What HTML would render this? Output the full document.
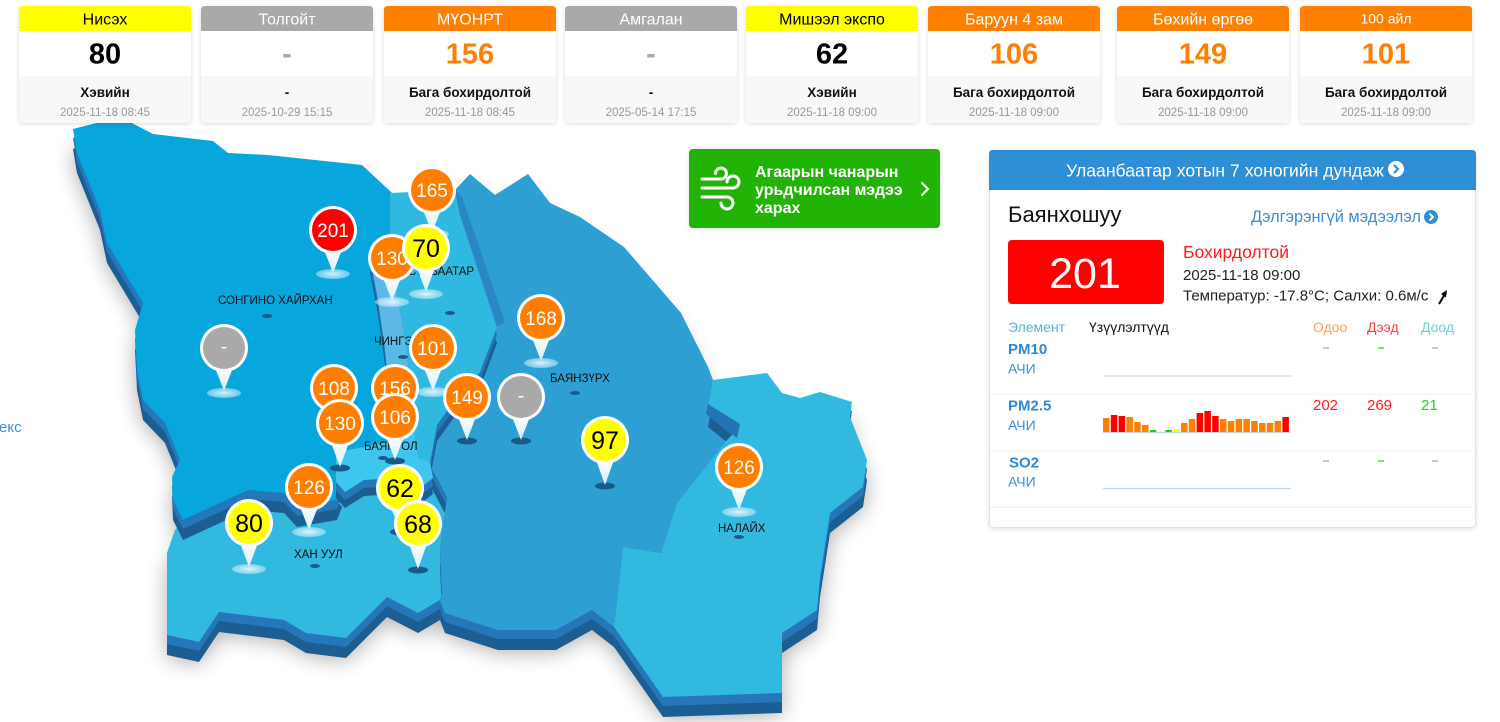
<!DOCTYPE html>
<html><head><meta charset="utf-8">
<style>
*{margin:0;padding:0;box-sizing:border-box}
html,body{width:1500px;height:722px;overflow:hidden;background:#fff}
svg{display:block}
</style></head>
<body>
<svg width="1500" height="722" viewBox="0 0 1500 722" xmlns="http://www.w3.org/2000/svg" xmlns:xlink="http://www.w3.org/1999/xlink" font-family="'Liberation Sans', 'Noto Sans CJK SC', sans-serif">
<defs>
<polygon id="skh" points="73,129 120,117 128,121 153,134 213,141 228,153 268,155 362,165 392,193 390,255 370,258 378,300 385,350 392,420 400,440 364,447 336,452 336,480 342,487 337,500 297,507 284,493 248,490 183,520 173,500 172,477 180,460 165,423 143,400 137,370 135,330 143,303 107,243 100,210 77,153"/>
<polygon id="chg" points="370,258 390,255 398,300 405,340 410,380 413,420 400,440 392,420 385,350 378,300"/>
<polygon id="sukh" points="390,193 455,190 460,215 497,327 480,372 455,400 437,425 430,462 418,458 413,420 410,380 405,340 398,300 390,255"/>
<polygon id="bg" points="336,452 364,447 400,440 413,420 418,458 430,462 433,478 420,488 395,478 364,480 345,492 336,482"/>
<polygon id="ku" points="183,520 248,490 284,493 297,507 337,500 345,492 364,480 395,478 420,488 433,478 431,467 447,497 440,547 442,593 440,600 418,613 387,597 346,638 306,633 284,620 219,612 199,642 167,635 167,553 175,530"/>
<polygon id="bz" points="455,190 470,174 495,195 528,174 550,203 580,217 624,247 681,313 708,367 713,380 708,407 737,430 727,440 677,503 661,553 623,547 614,627 592,610 556,630 498,630 445,613 440,600 442,593 440,547 447,497 431,467 430,462 437,425 455,400 480,372 497,327 460,215"/>
<polygon id="nl" points="713,380 767,373 782,393 800,398 820,392 852,402 850,417 867,460 863,487 830,513 820,577 817,610 782,633 782,693 663,697 614,627 623,547 661,553 677,503 727,440 737,430 708,407"/>
<filter id="mapsh" x="-20%" y="-20%" width="140%" height="140%"><feGaussianBlur stdDeviation="11"/></filter>
<filter id="csh" x="-10%" y="-10%" width="120%" height="130%"><feGaussianBlur stdDeviation="2.5"/></filter>
<radialGradient id="le"><stop offset="0" stop-color="#ffffff" stop-opacity=".85"/><stop offset="1" stop-color="#cdeefa" stop-opacity=".5"/></radialGradient>
<linearGradient id="tg" x1="0" y1="0" x2="0" y2="1"><stop offset="0" stop-color="#ffffff"/><stop offset="1" stop-color="#d5f0fb"/></linearGradient>
</defs>

<!-- Map shadow -->
<g filter="url(#mapsh)" opacity=".32" transform="translate(0,22)" fill="#000">
<use xlink:href="#skh"/><use xlink:href="#sukh"/><use xlink:href="#ku"/><use xlink:href="#bz"/><use xlink:href="#nl"/><use xlink:href="#bg"/><use xlink:href="#chg"/>
</g>

<!-- Khan-Uul -->
<use xlink:href="#ku" y="20" fill="#1c5d92"/><use xlink:href="#ku" y="9" fill="#2577b9"/><use xlink:href="#ku" fill="#31b9df"/>
<!-- Bayanzurkh -->
<use xlink:href="#bz" y="20" fill="#1c5d92"/><use xlink:href="#bz" y="9" fill="#2577b9"/><use xlink:href="#bz" fill="#2e9fd3"/>
<!-- Nalaikh -->
<use xlink:href="#nl" y="20" fill="#1c5d92"/><use xlink:href="#nl" y="9" fill="#2577b9"/><use xlink:href="#nl" fill="#31b9df"/>
<polygon points="708,404 740,424 737,438 706,414" fill="#2474b4"/>
<!-- Songino Khairkhan -->
<use xlink:href="#skh" y="20" fill="#1c5d92"/><use xlink:href="#skh" y="9" fill="#2577b9"/><use xlink:href="#skh" fill="#07a6dc"/>
<!-- Sukhbaatar -->
<use xlink:href="#sukh" y="16" fill="#1c5d92"/><use xlink:href="#sukh" y="8" fill="#2577b9"/><use xlink:href="#sukh" fill="#30b9e0"/>
<polygon points="455,190 462,197 505,322 497,327 460,215" fill="#2a86c5"/>
<!-- Chingeltei -->
<use xlink:href="#chg" y="14" fill="#1c5d92"/><use xlink:href="#chg" y="7" fill="#2577b9"/><use xlink:href="#chg" fill="#5bb8e7"/>
<!-- Bayangol -->
<use xlink:href="#bg" y="16" fill="#1c5d92"/><use xlink:href="#bg" y="8" fill="#2577b9"/><use xlink:href="#bg" fill="#3fc6ee"/>

<!-- label dots -->
<g fill="#1b5a8a">
<ellipse cx="267" cy="316" rx="5" ry="2"/>
<ellipse cx="450" cy="313" rx="5" ry="2"/>
<ellipse cx="403" cy="357" rx="5" ry="2"/>
<ellipse cx="575" cy="393" rx="5" ry="2"/>
<ellipse cx="383" cy="458" rx="5" ry="2"/>
<ellipse cx="315" cy="566" rx="5" ry="2"/>
<ellipse cx="739" cy="537" rx="5" ry="2"/>
</g>
<!-- labels -->
<g font-size="11.5" fill="#111">
<text x="218" y="304">СОНГИНО ХАЙРХАН</text>
<text x="408" y="275">СҮХБААТАР</text>
<text x="374" y="345">ЧИНГЭЛТЭЙ</text>
<text x="550" y="382">БАЯНЗҮРХ</text>
<text x="364" y="450">БАЯНГОЛ</text>
<text x="294" y="558">ХАН УУЛ</text>
<text x="718" y="532">НАЛАЙХ</text>
</g>

<text x="-1" y="432" font-size="15" fill="#3a8fd6">екс</text>

<!-- Pins -->
<g font-size="19" text-anchor="middle">
<g transform="translate(432,190)"><ellipse cy="44" rx="17" ry="5" fill="url(#le)"/><path d="M-10,17 L0,43 L10,17 Z" fill="url(#tg)"/><circle r="24" fill="#fff"/><circle r="21" fill="#ff7e00"/><text y="7" fill="#fff">165</text></g>
<g transform="translate(333,230)"><ellipse cy="44" rx="17" ry="5" fill="url(#le)"/><path d="M-10,17 L0,43 L10,17 Z" fill="url(#tg)"/><circle r="24" fill="#fff"/><circle r="21" fill="#ff0000"/><text y="7" fill="#fff">201</text></g>
<g transform="translate(392,258)"><ellipse cy="44" rx="17" ry="5" fill="url(#le)"/><path d="M-10,17 L0,43 L10,17 Z" fill="url(#tg)"/><circle r="24" fill="#fff"/><circle r="21" fill="#ff7e00"/><text y="7" fill="#fff">130</text></g>
<g transform="translate(426,248)"><ellipse cy="46" rx="17" ry="5" fill="url(#le)"/><path d="M-10,17 L0,44 L10,17 Z" fill="url(#tg)"/><circle r="24" fill="#fff"/><circle r="21" fill="#ffff00"/><text y="9" font-size="25" fill="#000">70</text></g>
<g transform="translate(224,348)"><ellipse cy="45" rx="17" ry="5" fill="url(#le)"/><path d="M-10,17 L0,43 L10,17 Z" fill="url(#tg)"/><circle r="24" fill="#fff"/><circle r="21" fill="#a9a9a9"/><text y="5" fill="#fff">-</text></g>
<g transform="translate(541,318)"><ellipse cy="45" rx="17" ry="5" fill="url(#le)"/><path d="M-10,17 L0,43 L10,17 Z" fill="url(#tg)"/><circle r="24" fill="#fff"/><circle r="21" fill="#ff7e00"/><text y="7" fill="#fff">168</text></g>
<g transform="translate(433,348)"><ellipse cy="44" rx="17" ry="5" fill="url(#le)"/><path d="M-10,17 L0,43 L10,17 Z" fill="url(#tg)"/><circle r="24" fill="#fff"/><circle r="21" fill="#ff7e00"/><text y="7" fill="#fff">101</text></g>
<g transform="translate(334,388)"><ellipse cy="44" rx="10" ry="3.5" fill="#175a88"/><path d="M-10,17 L0,43 L10,17 Z" fill="url(#tg)"/><circle r="24" fill="#fff"/><circle r="21" fill="#ff7e00"/><text y="7" fill="#fff">108</text></g>
<g transform="translate(395,388)"><ellipse cy="44" rx="10" ry="3.5" fill="#175a88"/><path d="M-10,17 L0,43 L10,17 Z" fill="url(#tg)"/><circle r="24" fill="#fff"/><circle r="21" fill="#ff7e00"/><text y="7" fill="#fff">156</text></g>
<g transform="translate(467,397)"><ellipse cy="44" rx="10" ry="3.5" fill="#175a88"/><path d="M-10,17 L0,43 L10,17 Z" fill="url(#tg)"/><circle r="24" fill="#fff"/><circle r="21" fill="#ff7e00"/><text y="7" fill="#fff">149</text></g>
<g transform="translate(521,397)"><ellipse cy="44" rx="10" ry="3.5" fill="#175a88"/><path d="M-10,17 L0,43 L10,17 Z" fill="url(#tg)"/><circle r="24" fill="#fff"/><circle r="21" fill="#a9a9a9"/><text y="5" fill="#fff">-</text></g>
<g transform="translate(340,423)"><ellipse cy="45" rx="10" ry="3.5" fill="#175a88"/><path d="M-10,17 L0,44 L10,17 Z" fill="url(#tg)"/><circle r="24" fill="#fff"/><circle r="21" fill="#ff7e00"/><text y="7" fill="#fff">130</text></g>
<g transform="translate(395,417)"><ellipse cy="44" rx="10" ry="3.5" fill="#175a88"/><path d="M-10,17 L0,43 L10,17 Z" fill="url(#tg)"/><circle r="24" fill="#fff"/><circle r="21" fill="#ff7e00"/><text y="7" fill="#fff">106</text></g>
<g transform="translate(605,440)"><ellipse cy="46" rx="10" ry="3.5" fill="#175a88"/><path d="M-10,17 L0,45 L10,17 Z" fill="url(#tg)"/><circle r="24" fill="#fff"/><circle r="21" fill="#ffff00"/><text y="9" font-size="25" fill="#000">97</text></g>
<g transform="translate(739,467)"><ellipse cy="45" rx="17" ry="5" fill="url(#le)"/><path d="M-10,17 L0,43 L10,17 Z" fill="url(#tg)"/><circle r="24" fill="#fff"/><circle r="21" fill="#ff7e00"/><text y="7" fill="#fff">126</text></g>
<g transform="translate(309,487)"><ellipse cy="45" rx="17" ry="5" fill="url(#le)"/><path d="M-10,17 L0,43 L10,17 Z" fill="url(#tg)"/><circle r="24" fill="#fff"/><circle r="21" fill="#ff7e00"/><text y="7" fill="#fff">126</text></g>
<g transform="translate(400,488)"><ellipse cy="44" rx="10" ry="3.5" fill="#175a88"/><path d="M-10,17 L0,43 L10,17 Z" fill="url(#tg)"/><circle r="24" fill="#fff"/><circle r="21" fill="#ffff00"/><text y="9" font-size="25" fill="#000">62</text></g>
<g transform="translate(418,524)"><ellipse cy="46" rx="10" ry="3.5" fill="#175a88"/><path d="M-10,17 L0,45 L10,17 Z" fill="url(#tg)"/><circle r="24" fill="#fff"/><circle r="21" fill="#ffff00"/><text y="9" font-size="25" fill="#000">68</text></g>
<g transform="translate(249,523)"><ellipse cy="46" rx="17" ry="5" fill="url(#le)"/><path d="M-10,17 L0,44 L10,17 Z" fill="url(#tg)"/><circle r="24" fill="#fff"/><circle r="21" fill="#ffff00"/><text y="9" font-size="25" fill="#000">80</text></g>
</g>

<!-- Cards -->
<g>
<g fill="#000" opacity=".14" filter="url(#csh)">
<rect x="19" y="7" width="172" height="117" rx="4"/>
<rect x="201" y="7" width="172" height="117" rx="4"/>
<rect x="384" y="7" width="172" height="117" rx="4"/>
<rect x="565" y="7" width="172" height="117" rx="4"/>
<rect x="746" y="7" width="172" height="117" rx="4"/>
<rect x="928" y="7" width="172" height="117" rx="4"/>
<rect x="1117" y="7" width="172" height="117" rx="4"/>
<rect x="1300" y="7" width="172" height="117" rx="4"/>
</g>
<g fill="#fff">
<rect x="19" y="6" width="172" height="117" rx="4"/>
<rect x="201" y="6" width="172" height="117" rx="4"/>
<rect x="384" y="6" width="172" height="117" rx="4"/>
<rect x="565" y="6" width="172" height="117" rx="4"/>
<rect x="746" y="6" width="172" height="117" rx="4"/>
<rect x="928" y="6" width="172" height="117" rx="4"/>
<rect x="1117" y="6" width="172" height="117" rx="4"/>
<rect x="1300" y="6" width="172" height="117" rx="4"/>
</g>
<g fill="#f8f8f8">
<path d="M19,76 H191 V119 Q191,123 187,123 H23 Q19,123 19,119 Z"/>
<path d="M201,76 H373 V119 Q373,123 369,123 H205 Q201,123 201,119 Z"/>
<path d="M384,76 H556 V119 Q556,123 552,123 H388 Q384,123 384,119 Z"/>
<path d="M565,76 H737 V119 Q737,123 733,123 H569 Q565,123 565,119 Z"/>
<path d="M746,76 H918 V119 Q918,123 914,123 H750 Q746,123 746,119 Z"/>
<path d="M928,76 H1100 V119 Q1100,123 1096,123 H932 Q928,123 928,119 Z"/>
<path d="M1117,76 H1289 V119 Q1289,123 1285,123 H1121 Q1117,123 1117,119 Z"/>
<path d="M1300,76 H1472 V119 Q1472,123 1468,123 H1304 Q1300,123 1300,119 Z"/>
</g>
<path d="M19,31 V10 Q19,6 23,6 H187 Q191,6 191,10 V31 Z" fill="#ffff00"/>
<path d="M201,31 V10 Q201,6 205,6 H369 Q373,6 373,10 V31 Z" fill="#a9a9a9"/>
<path d="M384,31 V10 Q384,6 388,6 H552 Q556,6 556,10 V31 Z" fill="#ff7f00"/>
<path d="M565,31 V10 Q565,6 569,6 H733 Q737,6 737,10 V31 Z" fill="#a9a9a9"/>
<path d="M746,31 V10 Q746,6 750,6 H914 Q918,6 918,10 V31 Z" fill="#ffff00"/>
<path d="M928,31 V10 Q928,6 932,6 H1096 Q1100,6 1100,10 V31 Z" fill="#ff7f00"/>
<path d="M1117,31 V10 Q1117,6 1121,6 H1285 Q1289,6 1289,10 V31 Z" fill="#ff7f00"/>
<path d="M1300,31 V10 Q1300,6 1304,6 H1468 Q1472,6 1472,10 V31 Z" fill="#ff7f00"/>
<g text-anchor="middle">
<g font-size="16">
<text x="105" y="24.5" fill="#000">Нисэх</text>
<text x="287" y="24.5" fill="#fff">Толгойт</text>
<text x="470" y="24.5" fill="#fff">МҮОНРТ</text>
<text x="651" y="24.5" fill="#fff">Амгалан</text>
<text x="832" y="24.5" fill="#000">Мишээл экспо</text>
<text x="1014" y="24.5" fill="#fff">Баруун 4 зам</text>
<text x="1203" y="24.5" fill="#fff">Бөхийн өргөө</text>
</g>
<text x="1386" y="23.5" font-size="14" fill="#fff">100 айл</text>
<g font-size="29" font-weight="bold">
<text x="105" y="63.5" fill="#000">80</text>
<text x="287" y="63.5" fill="#aaa">-</text>
<text x="470" y="63.5" fill="#ff7f00">156</text>
<text x="651" y="63.5" fill="#aaa">-</text>
<text x="832" y="63.5" fill="#000">62</text>
<text x="1014" y="63.5" fill="#ff7f00">106</text>
<text x="1203" y="63.5" fill="#ff7f00">149</text>
<text x="1386" y="63.5" fill="#ff7f00">101</text>
</g>
<g font-size="13.5" font-weight="bold" fill="#111">
<text x="105" y="97">Хэвийн</text>
<text x="287" y="97">-</text>
<text x="470" y="97">Бага бохирдолтой</text>
<text x="651" y="97">-</text>
<text x="832" y="97">Хэвийн</text>
<text x="1014" y="97">Бага бохирдолтой</text>
<text x="1203" y="97">Бага бохирдолтой</text>
<text x="1386" y="97">Бага бохирдолтой</text>
</g>
<g font-size="11.5" fill="#999">
<text x="105" y="116">2025-11-18 08:45</text>
<text x="287" y="116">2025-10-29 15:15</text>
<text x="470" y="116">2025-11-18 08:45</text>
<text x="651" y="116">2025-05-14 17:15</text>
<text x="832" y="116">2025-11-18 09:00</text>
<text x="1014" y="116">2025-11-18 09:00</text>
<text x="1203" y="116">2025-11-18 09:00</text>
<text x="1386" y="116">2025-11-18 09:00</text>
</g>
</g>
</g>

<!-- Green button -->
<rect x="689" y="150" width="251" height="79" rx="4" fill="#000" opacity=".12" filter="url(#csh)"/>
<rect x="689" y="149" width="251" height="79" rx="4" fill="#21b305"/>
<g stroke="#fff" stroke-width="3" fill="none" stroke-linecap="round">
<path d="M702,179 H721 a5.5,5.5 0 1 0 -5.5,-5.5"/>
<path d="M702,188 H733 a6,6 0 1 0 -6,-6"/>
<path d="M702,197 H727 a6,6 0 1 1 -6,6"/>
<path d="M922,183 L928,189 L922,195" stroke-width="2"/>
</g>
<g font-size="16" font-weight="bold" fill="#fff">
<text x="755" y="177">Агаарын чанарын</text>
<text x="755" y="195">урьдчилсан мэдээ</text>
<text x="755" y="213">харах</text>
</g>

<!-- Right panel -->
<rect x="989" y="151" width="487" height="378" rx="4" fill="#000" opacity=".12" filter="url(#csh)"/>
<rect x="989.5" y="150.5" width="486" height="377" rx="4" fill="#fff" stroke="#e2e2e2"/>
<path d="M989,190 V154 Q989,150 993,150 H1472 Q1476,150 1476,154 V190 Z" fill="#2f8fd6"/>
<text x="1066" y="176.5" font-size="17.6" fill="#fff">Улаанбаатар хотын 7 хоногийн дундаж</text>
<circle cx="1396" cy="169" r="8" fill="#fff"/>
<path d="M1394,165 L1398,169 L1394,173" stroke="#2f8fd6" stroke-width="2.2" fill="none"/>

<text x="1008" y="222" font-size="22" fill="#111">Баянхошуу</text>
<text x="1251" y="222" font-size="16.4" fill="#3a8fd6">Дэлгэрэнгүй мэдээлэл</text>
<circle cx="1431" cy="217" r="7" fill="#2f8fd6"/>
<path d="M1429.5,213.5 L1433,217 L1429.5,220.5" stroke="#fff" stroke-width="2" fill="none"/>

<rect x="1008" y="240" width="156" height="64" rx="4" fill="#ff0000"/>
<text x="1085" y="288" font-size="43" fill="#fff" text-anchor="middle">201</text>
<text x="1183" y="258" font-size="17.5" fill="#ff1a1a">Бохирдолтой</text>
<text x="1183" y="280" font-size="15" fill="#222">2025-11-18 09:00</text>
<text x="1183" y="300.5" font-size="15" fill="#222">Температур: -17.8°C; Салхи: 0.6м/с</text>
<path d="M1439,304 L1445,294" stroke="#000" stroke-width="2" fill="none"/>
<path d="M1447,290 L1441,294 L1446,297.5 Z" fill="#000"/>

<g font-size="14">
<text x="1008" y="332" fill="#5aaee0">Элемент</text>
<text x="1089" y="332" fill="#111">Үзүүлэлтүүд</text>
<text x="1313" y="332" fill="#ffa050">Одоо</text>
<text x="1367" y="332" fill="#ff3b4a">Дээд</text>
<text x="1421" y="332" fill="#6dd0d8">Доод</text>
</g>
<g font-size="15" font-weight="bold" fill="#2d89d4">
<text x="1008" y="354">PM10</text>
<text x="1008" y="410.5">PM2.5</text>
<text x="1009" y="467.5">SO2</text>
</g>
<g font-size="14" fill="#3a8fd6">
<text x="1008" y="373.5">АЧИ</text>
<text x="1008" y="430">АЧИ</text>
<text x="1008" y="486.5">АЧИ</text>
</g>
<g stroke-width="1.3">
<path d="M1323,348 H1329" stroke="#aaa"/>
<path d="M1378,348 H1384" stroke="#2c2"/>
<path d="M1432,348 H1438" stroke="#aaa"/>
<path d="M1323,461 H1329" stroke="#aaa"/>
<path d="M1378,461 H1384" stroke="#2c2"/>
<path d="M1432,461 H1438" stroke="#aaa"/>
</g>
<g font-size="15">
<text x="1313" y="410" fill="#ff1a1a">202</text>
<text x="1367" y="410" fill="#ff1a1a">269</text>
<text x="1421" y="410" fill="#22cc22">21</text>
</g>
<g stroke="#c3d7ec" stroke-width="1.2">
<path d="M1103,376 H1291"/>
<path d="M1103,432.5 H1291"/>
<path d="M1103,488.5 H1291"/>
</g>
<g stroke="#ececec" stroke-width="1" stroke-dasharray="2,1">
<path d="M990,394 H1475"/>
<path d="M990,451 H1475"/>
<path d="M990,507.5 H1475"/>
</g>
<!-- PM2.5 bars -->
<g transform="translate(0,-2)">
<rect x="1103" y="420" width="6.5" height="14" fill="#ff8000"/>
<rect x="1110.8" y="417" width="6.5" height="17" fill="#ff0000"/>
<rect x="1118.6" y="418" width="6.5" height="16" fill="#ff0000"/>
<rect x="1126.4" y="419" width="6.5" height="15" fill="#ff8000"/>
<rect x="1134.2" y="424" width="6.5" height="10" fill="#ff8000"/>
<rect x="1142" y="427" width="6.5" height="7" fill="#ff8000"/>
<rect x="1149.8" y="432" width="6.5" height="2" fill="#22cc22"/>
<rect x="1165.4" y="432" width="6.5" height="2" fill="#22cc22"/>
<rect x="1173.2" y="431" width="6.5" height="3" fill="#ffff00"/>
<rect x="1181" y="425" width="6.5" height="9" fill="#ff8000"/>
<rect x="1188.8" y="421" width="6.5" height="13" fill="#ff8000"/>
<rect x="1196.6" y="415" width="6.5" height="19" fill="#ff0000"/>
<rect x="1204.4" y="413" width="6.5" height="21" fill="#ff0000"/>
<rect x="1212.2" y="418" width="6.5" height="16" fill="#ff0000"/>
<rect x="1220" y="421" width="6.5" height="13" fill="#ff8000"/>
<rect x="1227.8" y="423" width="6.5" height="11" fill="#ff8000"/>
<rect x="1235.6" y="421" width="6.5" height="13" fill="#ff8000"/>
<rect x="1243.4" y="421" width="6.5" height="13" fill="#ff8000"/>
<rect x="1251.2" y="423" width="6.5" height="11" fill="#ff8000"/>
<rect x="1259" y="425" width="6.5" height="9" fill="#ff8000"/>
<rect x="1266.8" y="425" width="6.5" height="9" fill="#ff8000"/>
<rect x="1274.6" y="423" width="6.5" height="11" fill="#ff8000"/>
<rect x="1282.4" y="419" width="6.5" height="15" fill="#ff0000"/>
</g>
</svg>
</body></html>
